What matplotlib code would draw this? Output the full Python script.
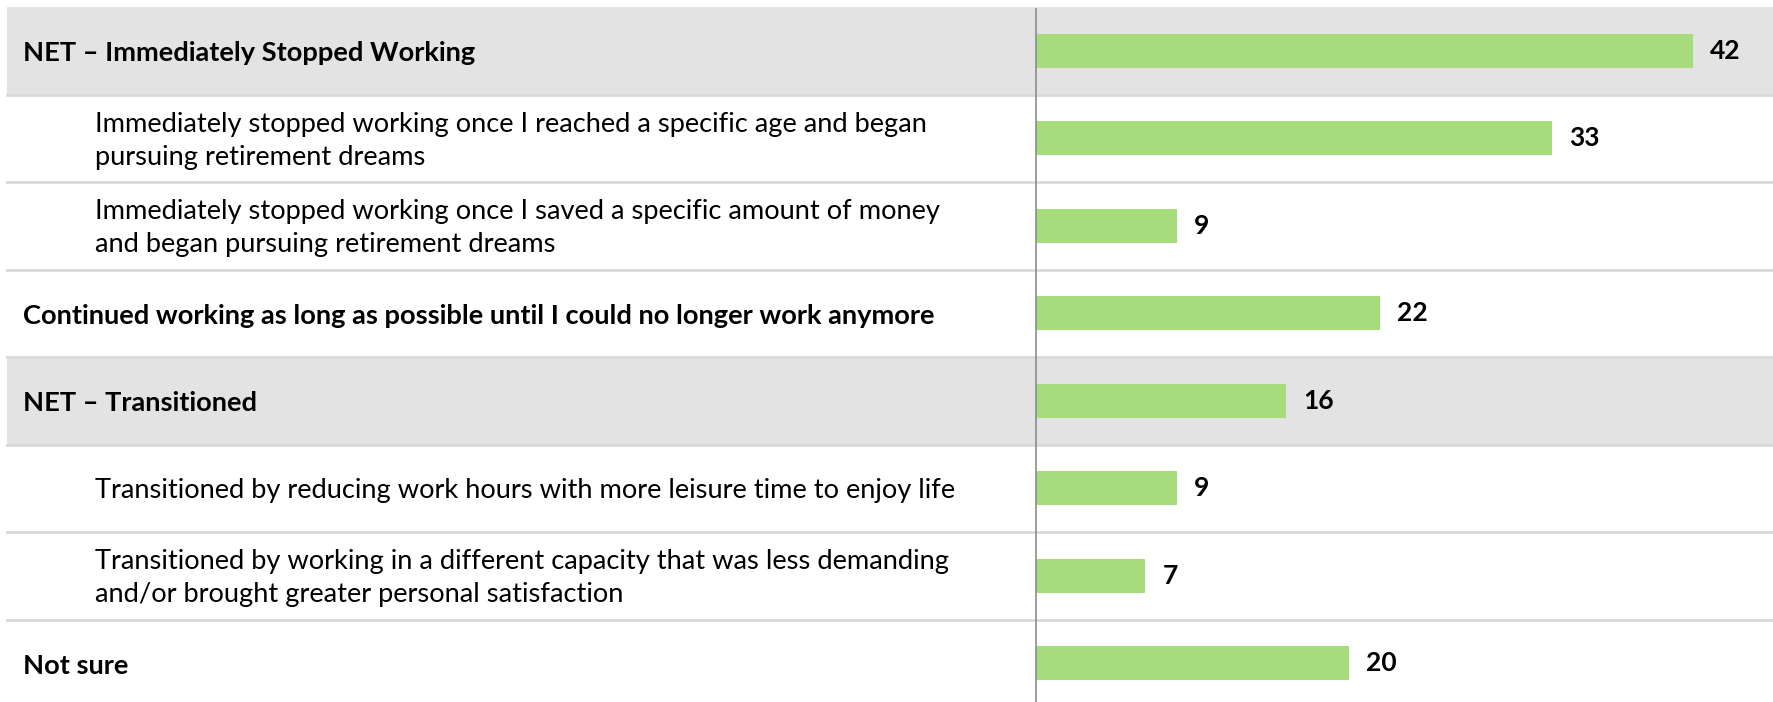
import numpy as np
import matplotlib
matplotlib.use("Agg")
import matplotlib.pyplot as plt

# Data
labels = [
    "NET \u2013 Immediately Stopped Working",
    "Immediately stopped working once I reached a specific age and began\npursuing retirement dreams",
    "Immediately stopped working once I saved a specific amount of money\nand began pursuing retirement dreams",
    "Continued working as long as possible until I could no longer work anymore",
    "NET \u2013 Transitioned",
    "Transitioned by reducing work hours with more leisure time to enjoy life",
    "Transitioned by working in a different capacity that was less demanding\nand/or brought greater personal satisfaction",
    "Not sure",
]
values = [42, 33, 9, 22, 16, 9, 7, 20]
is_net = [True, False, False, False, True, False, False, False]
is_bold = [True, False, False, True, True, False, False, True]

BAR_COLOR = "#a6dc7c"
BAND_COLOR = "#e3e3e3"
LINE_COLOR = "#d9d9d9"

W, H = 1773, 702
fig = plt.figure(figsize=(W / 100, H / 100), dpi=100)
# rows are ~87.5 px tall starting 7 px from the top; the last one runs off the bottom
ax = fig.add_axes([0, -5 / H, 1, 700 / H])

# x scale: zero line at pixel 1036, ~15.64 px per unit
px_per_unit = 15.64
zero_px = 1036
ax.set_xlim(-zero_px / px_per_unit, (W - zero_px) / px_per_unit)
n = len(values)
ax.set_ylim(n - 0.5, -0.5)
ax.axis("off")

y = np.arange(n)

# grey bands for NET rows
for i in range(n):
    if is_net[i]:
        ax.axhspan(i - 0.5, i + 0.5, xmin=0.004, xmax=1, color=BAND_COLOR, zorder=0, lw=0)

# separators
for i in range(n - 1):
    ax.axhline(i + 0.5, xmin=0.004, xmax=1, color=LINE_COLOR, lw=2, zorder=1)

# bars
ax.barh(y, values, height=0.39, color=BAR_COLOR, zorder=3)

# zero line
ax.axvline(0, ymax=1 - 2 / 700 * 8 / 8, color="#8c8c8c", lw=1.2, zorder=4)

# value labels
for i, v in enumerate(values):
    ax.text(v + 17 / px_per_unit, i, str(v), va="center", ha="left",
            fontsize=19, fontweight="bold", family="Lato", color="black", zorder=5)

# category labels
for i, lab in enumerate(labels):
    x_px = 23 if is_bold[i] else 95
    ax.text(x_px / W, i + 0.03, lab, transform=ax.get_yaxis_transform(), va="center", ha="left",
            fontsize=19.6, fontweight="bold" if is_bold[i] else "normal",
            family="Lato", color="black", linespacing=1.4, zorder=5)

fig.savefig("out.png", dpi=100)
